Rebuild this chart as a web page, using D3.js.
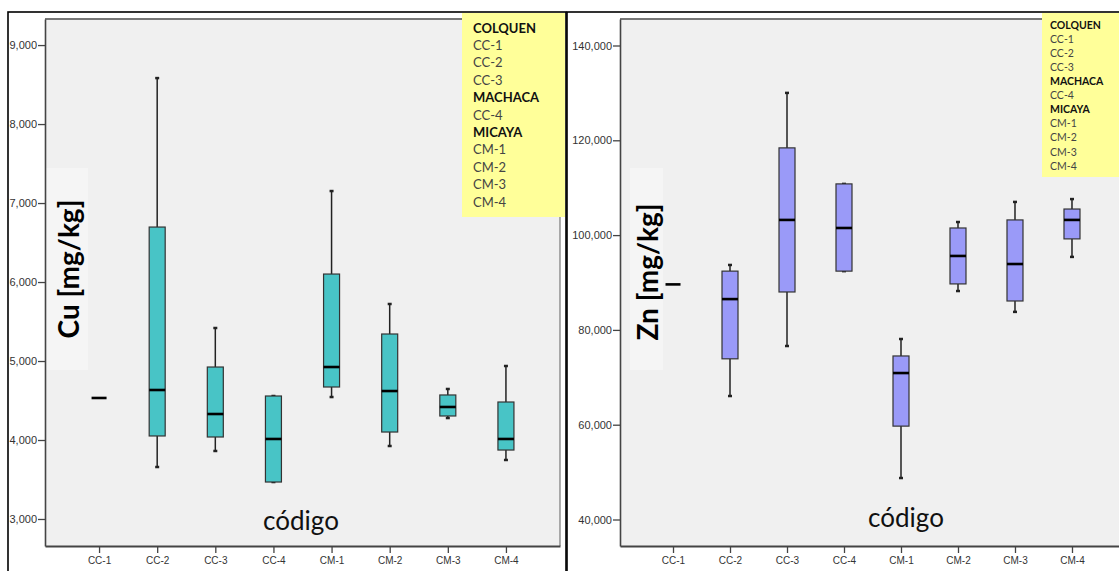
<!DOCTYPE html>
<html><head><meta charset="utf-8">
<script src="https://cdn.jsdelivr.net/npm/d3@7"></script>
<style>
body{margin:0;background:#fff;}
svg{display:block;}
</style></head>
<body>
<svg id="c" width="1119" height="571"></svg>
<script>
// ---- data ----
const categories = ["CC-1","CC-2","CC-3","CC-4","CM-1","CM-2","CM-3","CM-4"];
// Cu [mg/kg]
const cuWhiskerLow  = [null, 3658, 3861, 3468, 4544, 3924, 4278, 3747];
const cuQ1          = [null, 4051, 4038, 3468, 4671, 4101, 4304, 3873];
const cuMedian      = [4532, 4633, 4329, 4013, 4924, 4620, 4418, 4013];
const cuQ3          = [null, 6696, 4924, 4557, 6101, 5342, 4570, 4481];
const cuWhiskerHigh = [null, 8582, 5418, 4557, 7152, 5722, 4646, 4937];
const cuTicks = [3000,4000,5000,6000,7000,8000,9000];
// Zn [mg/kg]
const znWhiskerLow  = [null, 66050, 76600, 92400, 48750, 88200, 83800, 95400];
const znQ1          = [null, 73900, 88000, 92400, 59700, 89700, 86100, 99200];
const znMedian      = [89600, 86500, 103200, 101500, 70900, 95600, 93900, 103200];
const znQ3          = [null, 92400, 118400, 110800, 74500, 101500, 103200, 105500];
const znWhiskerHigh = [null, 93700, 130000, 110800, 78080, 102760, 107000, 107600];
const znTicks = [40000,60000,80000,100000,120000,140000];
// legend
const legendItems = [
  {t:"COLQUEN",b:true},{t:"CC-1"},{t:"CC-2"},{t:"CC-3"},
  {t:"MACHACA",b:true},{t:"CC-4"},
  {t:"MICAYA",b:true},{t:"CM-1"},{t:"CM-2"},{t:"CM-3"},{t:"CM-4"}
];

const svg = d3.select("#c");

function panel(cfg){
  const g = svg.append("g");
  const {x0,x1,top,bottom} = cfg;
  // outer frame
  g.append("rect").attr("x",cfg.fx0).attr("y",12).attr("width",cfg.fx1-cfg.fx0).attr("height",600)
    .attr("fill","#fff").attr("stroke","#000").attr("stroke-width",1.6);
  // plot background
  g.append("rect").attr("x",x0).attr("y",top).attr("width",x1-x0).attr("height",bottom-top)
    .attr("fill","#F0F0F0");
  // top border
  g.append("line").attr("x1",x0).attr("x2",x1).attr("y1",top).attr("y2",top)
    .attr("stroke","#777").attr("stroke-width",2.2);
  // right border
  g.append("line").attr("x1",x1).attr("x2",x1).attr("y1",top).attr("y2",bottom)
    .attr("stroke","#777").attr("stroke-width",1.2);

  const y = d3.scaleLinear().domain(cfg.domain).range([bottom, top]);
  const x = d3.scalePoint().domain(categories).range([x0, x1]).padding(0.93);

  // y title background + title
  g.append("rect").attr("x",cfg.tbx).attr("y",168).attr("width",cfg.tbw).attr("height",202).attr("fill","#F5F5F5");
  g.append("text").attr("transform",`translate(${cfg.tx},${cfg.ty}) rotate(-90)`)
    .attr("text-anchor","middle").attr("font-family","Lato, 'Open Sans', sans-serif")
    .attr("font-weight","bold").attr("font-size",cfg.tfs).attr("fill","#000").text(cfg.title);

  // código label
  g.append("text").attr("x",cfg.cx).attr("y",cfg.cy).attr("text-anchor","middle")
    .attr("font-family","Lato, 'Open Sans', sans-serif").attr("font-size",26).attr("fill","#111").text("código");

  // axes
  const ya = g.append("g").attr("transform",`translate(${x0},0)`)
    .call(d3.axisLeft(y).tickValues(cfg.ticks).tickFormat(d3.format(",")).tickSize(7).tickSizeOuter(0).tickPadding(1));
  ya.selectAll("text").attr("font-family","'Liberation Sans', Arial, sans-serif").attr("font-size",11).attr("fill","#333");
  ya.selectAll("line").attr("stroke","#444").attr("stroke-width",1.3);
  ya.select(".domain").attr("stroke","#444").attr("stroke-width",1.6);

  const xa = g.append("g").attr("transform",`translate(0,${bottom})`)
    .call(d3.axisBottom(x).tickSize(7).tickSizeOuter(0).tickPadding(4));
  xa.selectAll("text").attr("font-family","'Liberation Sans', Arial, sans-serif").attr("font-size",10).attr("fill","#333");
  xa.selectAll("line").attr("stroke","#444").attr("stroke-width",1.3);
  xa.select(".domain").attr("stroke","#444").attr("stroke-width",1.8);

  // boxes
  const bw = 16;
  const d = categories.map((c,i)=>({c, lo:cfg.wl[i], q1:cfg.q1[i], med:cfg.med[i], q3:cfg.q3[i], hi:cfg.wh[i]}));
  const bx = g.append("g");
  d.forEach(o=>{
    const cxp = x(o.c);
    if(o.q1 !== null){
      // whiskers
      bx.append("line").attr("x1",cxp).attr("x2",cxp).attr("y1",y(o.hi)).attr("y2",y(o.q3)).attr("stroke","#222").attr("stroke-width",1.5);
      bx.append("line").attr("x1",cxp).attr("x2",cxp).attr("y1",y(o.q1)).attr("y2",y(o.lo)).attr("stroke","#222").attr("stroke-width",1.5);
      bx.append("line").attr("x1",cxp-2).attr("x2",cxp+2).attr("y1",y(o.hi)).attr("y2",y(o.hi)).attr("stroke","#222").attr("stroke-width",2.5);
      bx.append("line").attr("x1",cxp-2).attr("x2",cxp+2).attr("y1",y(o.lo)).attr("y2",y(o.lo)).attr("stroke","#222").attr("stroke-width",2.5);
      bx.append("rect").attr("x",cxp-bw/2).attr("y",y(o.q3)).attr("width",bw).attr("height",y(o.q1)-y(o.q3))
        .attr("fill",cfg.fill).attr("stroke","#333").attr("stroke-width",1.2);
      bx.append("line").attr("x1",cxp-bw/2).attr("x2",cxp+bw/2).attr("y1",y(o.med)).attr("y2",y(o.med)).attr("stroke","#000").attr("stroke-width",2.6);
    } else {
      bx.append("line").attr("x1",cxp-7.5).attr("x2",cxp+7.5).attr("y1",y(o.med)).attr("y2",y(o.med)).attr("stroke","#000").attr("stroke-width",2.6);
    }
  });

  // legend
  const lg = g.append("g");
  lg.append("rect").attr("x",cfg.lx).attr("y",13).attr("width",cfg.lw).attr("height",cfg.lh).attr("fill","#FFFF99");
  legendItems.forEach((it,i)=>{
    lg.append("text").attr("x",cfg.lx+cfg.ltx).attr("y",cfg.ly0+i*cfg.lstep).attr("dy","0.35em")
      .attr("font-family","Lato, 'Open Sans', sans-serif").attr("font-size",cfg.lfs)
      .attr("font-weight",it.b?"bold":"normal").attr("fill",it.b?"#111":"#444").text(it.t);
  });
}

panel({fx0:8,fx1:566,x0:45,x1:560,top:19,bottom:546,domain:[2658,9330],ticks:cuTicks,
  wl:cuWhiskerLow,q1:cuQ1,med:cuMedian,q3:cuQ3,wh:cuWhiskerHigh,fill:"#48C4C6",
  title:"Cu [mg/kg]",tx:79,ty:269,tfs:28,tbx:46,tbw:42,cx:301,cy:530,
  lx:462,lw:103,lh:204,ltx:11,ly0:28,lstep:17.4,lfs:13});
panel({fx0:567,fx1:1140,x0:620,x1:1125,top:19,bottom:546,domain:[34410,145590],ticks:znTicks,
  wl:znWhiskerLow,q1:znQ1,med:znMedian,q3:znQ3,wh:znWhiskerHigh,fill:"#9A9AF8",
  title:"Zn [mg/kg]",tx:658,ty:272,tfs:28,tbx:630,tbw:33,cx:906,cy:527,
  lx:1042,lw:80,lh:164,ltx:8,ly0:25,lstep:14.1,lfs:10.5});
</script>
</body></html>
